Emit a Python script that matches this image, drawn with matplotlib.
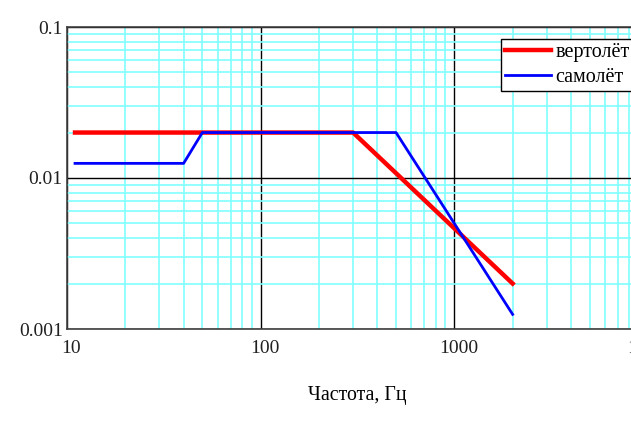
import matplotlib
matplotlib.use('Agg')
import matplotlib.pyplot as plt
import matplotlib.transforms as mtransforms
from matplotlib.ticker import LogLocator, NullFormatter, FixedLocator, FixedFormatter

# данные: частота, Гц и уровень
f_heli = [11, 300, 2000]
y_heli = [0.02, 0.02, 0.002]

f_plane = [11, 40, 50, 500, 2000]
y_plane = [0.0125, 0.0125, 0.02, 0.02, 0.00125]

x_ticks = [10, 100, 1000, 10000]
x_labels = ['10', '100', '1000', '10000']
y_ticks = [0.001, 0.01, 0.1]
y_labels = ['0.001', '0.01', '0.1']

plt.rcParams['font.family'] = ['Liberation Serif', 'DejaVu Serif']

fig = plt.figure(figsize=(6.31, 4.21), dpi=100)
# оси шире картинки - правый край обрезан, как в оригинале
ax = fig.add_axes([67/631, (421-329)/421, (648-67)/631, (329-27)/421])

ax.set_xscale('log')
ax.set_yscale('log')
ax.set_xlim(10, 10000)
ax.set_ylim(0.001, 0.1)

# сетка: голубые промежуточные, чёрные на декадах
ax.xaxis.set_minor_locator(LogLocator(base=10, subs=range(2, 10)))
ax.yaxis.set_minor_locator(LogLocator(base=10, subs=range(2, 10)))
ax.xaxis.set_minor_formatter(NullFormatter())
ax.yaxis.set_minor_formatter(NullFormatter())
ax.grid(which='minor', color='#80ffff', linewidth=1.2)
ax.grid(which='major', color='black', linewidth=1.0)
ax.set_axisbelow(True)

ax.xaxis.set_major_locator(FixedLocator(x_ticks))
ax.xaxis.set_major_formatter(FixedFormatter(x_labels))
ax.yaxis.set_major_locator(FixedLocator(y_ticks))
ax.yaxis.set_major_formatter(FixedFormatter(y_labels))
ax.tick_params(which='both', length=0, labelsize=14, colors='#202020')
ax.tick_params(axis='x', pad=8)
ax.tick_params(axis='y', pad=3)

# подписи по x чуть правее делений
shift = mtransforms.ScaledTranslation(4/100, 0, fig.dpi_scale_trans)
for lbl in ax.get_xticklabels():
    lbl.set_transform(lbl.get_transform() + shift)

for s in ax.spines.values():
    s.set_color('#404040')
    s.set_linewidth(1.2)

ax.plot(f_heli, y_heli, color='#ff0000', linewidth=3.2, label='вертолёт', zorder=3)
ax.plot(f_plane, y_plane, color='#0000ff', linewidth=2.0, label='самолёт', zorder=4)

ax.set_xlabel('Частота, Гц', fontsize=14.3, labelpad=21)

leg = ax.legend(loc='upper left', bbox_to_anchor=((501-67)/581, 1 - (39-27)/302),
                fontsize=14.5, frameon=True, fancybox=False, borderpad=0.2,
                handlelength=2.3, handletextpad=0.2, labelspacing=0.3,
                borderaxespad=0)
leg.get_frame().set_edgecolor('black')
leg.get_frame().set_linewidth(1.0)
leg.get_frame().set_alpha(1)

fig.savefig('out.png', dpi=100)
